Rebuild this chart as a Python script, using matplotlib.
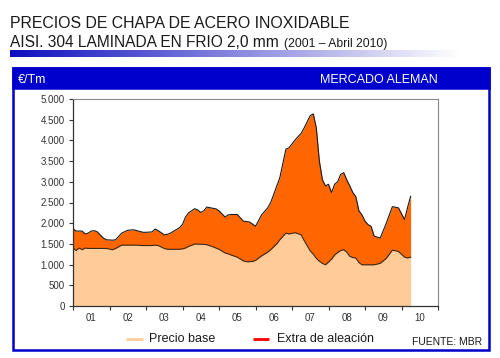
import numpy as np
import matplotlib
matplotlib.use('Agg')
import matplotlib.pyplot as plt
from matplotlib.patches import Rectangle
from matplotlib.ticker import FixedLocator, FuncFormatter

plt.rcParams['font.family'] = ['Liberation Sans', 'DejaVu Sans']

# months since Jan 2001
months = [0, 1, 2, 3, 4, 5, 6, 7, 8, 10, 11, 13, 14, 16, 18, 20, 21, 23, 24, 26,
          27, 28, 30, 31, 32, 35, 36, 37, 38, 40, 41, 42, 43, 44, 46, 47, 48, 50,
          51, 52, 54, 56, 57, 58, 59, 60, 62, 64, 65, 67, 68, 70, 71, 73, 75, 76,
          78, 79, 80, 81, 82, 83, 84, 85, 86, 87, 88, 89, 90, 91, 92, 93, 94, 95,
          96, 97, 98, 99, 101, 103, 105, 107, 109, 110, 111]
# total price (base + alloy surcharge), EUR/t
total = [1870, 1810, 1810, 1810, 1740, 1760, 1810, 1820, 1790, 1640, 1600, 1590,
         1600, 1760, 1830, 1840, 1820, 1780, 1780, 1790, 1860, 1820, 1720, 1730,
         1760, 1890, 1970, 2150, 2250, 2350, 2320, 2260, 2300, 2390, 2360, 2345,
         2300, 2150, 2200, 2210, 2210, 2050, 2040, 2030, 1980, 1925, 2200, 2370,
         2500, 2900, 3100, 3790, 3820, 4010, 4170, 4300, 4600, 4640, 4300, 3500,
         3050, 2900, 2940, 2740, 2940, 3000, 3180, 3220, 3050, 2900, 2740, 2640,
         2300, 2200, 2050, 1966, 1925, 1690, 1640, 2000, 2400, 2370, 2090, 2380,
         2650]
# base price, EUR/t
base = [1400, 1340, 1400, 1360, 1400, 1390, 1390, 1390, 1390, 1390, 1390, 1360,
        1390, 1470, 1470, 1470, 1470, 1460, 1460, 1460, 1470, 1460, 1390, 1370,
        1370, 1370, 1380, 1400, 1440, 1495, 1495, 1490, 1490, 1480, 1430, 1400,
        1370, 1280, 1260, 1230, 1180, 1090, 1070, 1070, 1076, 1100, 1210, 1300,
        1360, 1500, 1600, 1760, 1740, 1770, 1720, 1580, 1330, 1250, 1150, 1080,
        1030, 995, 1060, 1130, 1230, 1290, 1340, 1360, 1300, 1200, 1170, 1157,
        1050, 995, 995, 995, 995, 995, 1030, 1150, 1350, 1318, 1180, 1160, 1180]
year_labels = ['01', '02', '03', '04', '05', '06', '07', '08', '09', '10']

W, H = 500, 358
fig = plt.figure(figsize=(W / 100, H / 100), dpi=100)

# background / decoration in pixel coordinates
bg = fig.add_axes([0, 0, 1, 1])
bg.set_xlim(0, W)
bg.set_ylim(H, 0)
bg.axis('off')

bg.text(10, 28, 'PRECIOS DE CHAPA DE ACERO INOXIDABLE', fontsize=11.4, color='#1a1a1a', va='baseline')
t2 = bg.text(10, 47, 'AISI. 304 LAMINADA EN FRIO 2,0 mm', fontsize=11.2, color='#1a1a1a', va='baseline')
bg.annotate('(2001 \u2013 Abril 2010)', xy=(1, 0), xycoords=t2, xytext=(5, 0),
            textcoords='offset pixels', fontsize=8.7, color='#1a1a1a', va='bottom')

grad = np.linspace(0, 1, 256)
c0 = np.array([0.06, 0.06, 0.75])
c1 = np.array([1.0, 1.0, 1.0])
g = (c0[None, :] * (1 - grad[:, None]) + c1[None, :] * grad[:, None])[None, :, :]
bg.imshow(g, extent=[10, 460, 57.5, 51], aspect='auto', interpolation='bilinear')

bg.add_patch(Rectangle((12.5, 68), 476.5, 282, fill=False, edgecolor='#0000CC', lw=1.8))
bg.add_patch(Rectangle((12.5, 68), 476.5, 20, facecolor='#0000CC', edgecolor='#0000CC', lw=1.8))
bg.text(18, 83, '\u20ac/Tm', fontsize=9, color='white', va='baseline')
bg.text(438, 83, 'MERCADO ALEMAN', fontsize=9, color='white', va='baseline', ha='right')

# legend drawn by hand
bg.plot([126, 143], [338.5, 338.5], color='#FFCC99', lw=2, solid_capstyle='butt')
bg.text(149, 342, 'Precio base', fontsize=9, color='#1a1a1a', va='baseline')
bg.plot([253, 269], [338.5, 338.5], color='#FF0000', lw=2, solid_capstyle='butt')
bg.text(277, 342, 'Extra de aleaci\u00f3n', fontsize=9, color='#1a1a1a', va='baseline')
bg.text(482, 345, 'FUENTE: MBR', fontsize=7.5, color='#1a1a1a', va='baseline', ha='right')

# chart
x0, x1, y0, y1 = 73, 438, 99, 306
ax = fig.add_axes([x0 / W, 1 - y1 / H, (x1 - x0) / W, (y1 - y0) / H])
ax.fill_between(months, 0, base, color='#FFCC99', lw=0)
ax.fill_between(months, base, total, color='#FF6600', lw=0)
ax.plot(months, base, color='#3a2a1a', lw=0.8)
ax.plot(months, total, color='#1a1a1a', lw=0.8)

ax.set_xlim(0, 120)
ax.set_ylim(0, 5000)
ax.set_yticks(np.arange(0, 5001, 500))
ax.yaxis.set_major_formatter(FuncFormatter(lambda v, p: f'{int(v):,}'.replace(',', '.')))
ax.xaxis.set_major_locator(FixedLocator(np.arange(0, 121, 12)))
ax.xaxis.set_major_formatter(FuncFormatter(lambda v, p: ''))
ax.set_xticks(np.arange(6, 120, 12), year_labels, minor=True)
ax.tick_params(axis='x', which='major', direction='out', length=3, width=0.8, color='#333333')
ax.tick_params(axis='x', which='minor', length=0, pad=5, labelsize=7, labelcolor='#333333')
ax.tick_params(axis='y', direction='out', length=3, width=0.8, color='#333333', labelsize=7,
               labelcolor='#333333', pad=3)
for s in ['top', 'right']:
    ax.spines[s].set_color('#888888')
    ax.spines[s].set_linewidth(0.8)
for s in ['left', 'bottom']:
    ax.spines[s].set_color('#333333')
    ax.spines[s].set_linewidth(0.9)

fig.savefig('out.png', dpi=100)
